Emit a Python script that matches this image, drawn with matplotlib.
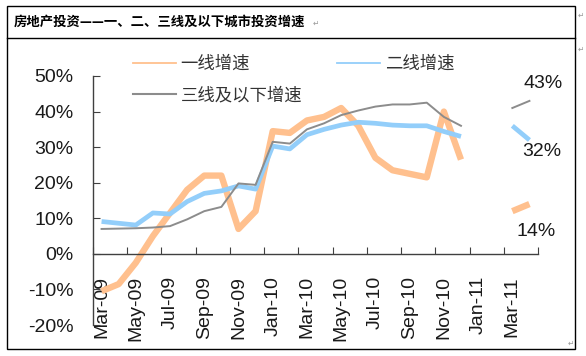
import numpy as np
import matplotlib
matplotlib.use("Agg")
import matplotlib.pyplot as plt
from matplotlib.lines import Line2D
from matplotlib.patches import Rectangle

# monthly data, Mar-09 .. Apr-11 (Jan/Feb-11 not published)
months = ["Mar-09", "Apr-09", "May-09", "Jun-09", "Jul-09", "Aug-09", "Sep-09", "Oct-09",
          "Nov-09", "Dec-09", "Jan-10", "Feb-10", "Mar-10", "Apr-10", "May-10", "Jun-10",
          "Jul-10", "Aug-10", "Sep-10", "Oct-10", "Nov-10", "Dec-10", "Jan-11", "Feb-11",
          "Mar-11", "Apr-11"]
tier1 = [-10.5, -8.5, -2.5, 5, 11.5, 18, 22, 22, 7, 12, 34.5, 34, 37.5, 38.5, 41, 36,
         27, 23.5, 22.5, 21.5, 40, 26.5, np.nan, np.nan, 12, 14]
tier2 = [9.1, 8.6, 8.1, 11.5, 11.2, 14.7, 17, 17.7, 19.1, 18.2, 30.3, 29.5, 33.5, 35, 36.2, 37,
         36.7, 36.2, 36, 36, 34.4, 33, np.nan, np.nan, 36, 32]
tier3 = [7, 7.1, 7.2, 7.4, 7.8, 9.7, 12, 13.2, 19.8, 19.4, 31.5, 31, 35, 36.7, 39, 40.3,
         41.4, 42, 42, 42.5, 38.5, 36, np.nan, np.nan, 41, 43]
series_names = ["一线增速", "二线增速", "三线及以下增速"]
end_labels = ["14%", "32%", "43%"]

title = "房地产投资——一、二、三线及以下城市投资增速"

c_orange = "#FFC08E"
c_blue = "#93CEFA"
c_gray = "#8C8C8C"
txt = "#1a1a1a"
cjk = ["Noto Sans CJK SC", "DejaVu Sans"]

W, H = 586, 356
fig = plt.figure(figsize=(W / 100, H / 100), dpi=100)
plt.rcParams["font.family"] = ["Liberation Sans", "DejaVu Sans"]


def px(x, y):
    return x / W, 1 - y / H


# word-table frame
x0, y0 = px(7, 6)
x1, y1 = px(575, 349)
fig.add_artist(Rectangle((x0, y1), x1 - x0, y0 - y1, transform=fig.transFigure,
                         fill=False, lw=1, ec="black"))
fig.add_artist(Line2D([x0, x1], [px(0, 38)[1]] * 2, transform=fig.transFigure, lw=1, color="black"))
fig.text(*px(14, 22), title, family=cjk, fontsize=9.6, fontweight="bold", va="center", ha="left")
fig.text(*px(313, 24), "↵", fontsize=5.5, color="#999999", va="center")
fig.text(*px(578, 16), "↵", fontsize=5.5, color="#999999", va="center")
fig.text(*px(578, 50), "↵", fontsize=5.5, color="#999999", va="center")
fig.text(*px(574, 344), "↵", fontsize=5.5, color="#999999", va="center", ha="right")

ax = fig.add_axes([93 / W, 1 - 325 / H, 445 / W, 249 / H])
x = np.arange(len(months))
ax.plot(x, tier1, color=c_orange, lw=4.6, solid_capstyle="butt", solid_joinstyle="round")
ax.plot(x, tier2, color=c_blue, lw=3.4, solid_capstyle="butt", solid_joinstyle="round")
ax.plot(x, tier3, color=c_gray, lw=1.4, solid_joinstyle="round")

ax.set_xlim(-0.5, len(months) - 0.5)
ax.set_ylim(-20, 50)
ax.set_yticks(np.arange(-20, 51, 10))
ax.set_yticklabels([f"{v}%" for v in range(-20, 51, 10)])

# category axis: ticks between months, labels every 2nd month
ax.set_xticks(np.arange(-0.5, len(months), 2))
ax.set_xticklabels([])
ax.set_xticks(x[::2], minor=True)
ax.set_xticklabels(months[::2], minor=True)

for s in ["top", "right"]:
    ax.spines[s].set_visible(False)
ax.spines["bottom"].set_position(("data", 0))
for s in ["left", "bottom"]:
    ax.spines[s].set_color("#404040")
    ax.spines[s].set_linewidth(1)
ax.tick_params(axis="both", which="major", direction="in", length=5, color="#404040",
               labelsize=14, labelcolor=txt)
ax.tick_params(axis="y", pad=14)
ax.tick_params(axis="x", which="minor", length=0, pad=16, labelsize=14, labelcolor=txt,
               labelrotation=90)
for lab in ax.get_xticklabels(minor=True):
    lab.set_va("top")
    lab.set_ha("center")
ax.patch.set_alpha(0)

# end-of-series labels
ax.text(25.8, 47.8, end_labels[2], fontsize=14, color=txt, ha="center", va="center", clip_on=False)
ax.text(25.7, 28.7, end_labels[1], fontsize=14, color=txt, ha="center", va="center", clip_on=False)
ax.text(25.4, 6.2, end_labels[0], fontsize=14, color=txt, ha="center", va="center", clip_on=False)

handles = [Line2D([], [], color=c_orange, lw=1.3),
           Line2D([], [], color=c_gray, lw=1.5),
           Line2D([], [], color=c_blue, lw=1.3)]
labels = [series_names[0], series_names[2], series_names[1]]
fig.legend(handles, labels, loc="upper left", bbox_to_anchor=px(133, 55), ncol=2,
           frameon=False, borderpad=0, borderaxespad=0, handlelength=2.5,
           handletextpad=0.25, columnspacing=2.0, labelspacing=0.75,
           prop={"family": cjk, "size": 12.5}, labelcolor="#333333")

fig.savefig("out.png", dpi=100)
